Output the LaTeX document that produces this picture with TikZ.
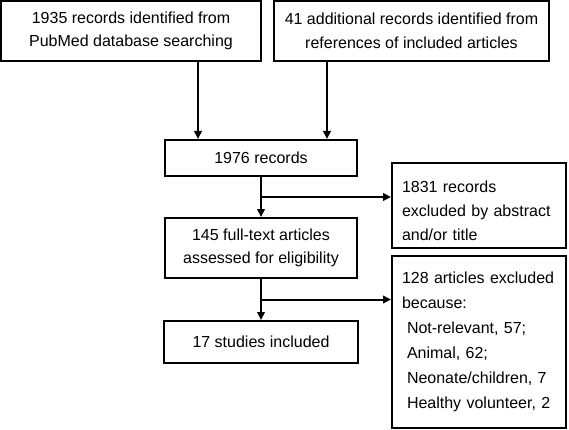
\documentclass[tikz,border=0pt]{standalone}
\usepackage{fontspec}
\setmainfont{Liberation Sans}
\usetikzlibrary{arrows.meta,calc}
\begin{document}
\begin{tikzpicture}[x=1pt,y=-1pt,
  box/.style={draw, line width=2pt, inner sep=0pt, align=center, font=\fontsize{16}{23.5}\selectfont},
  lbox/.style={box, align=left},
  arr/.style={-{Triangle[length=8pt,width=7.5pt]}, line width=2pt}]
\useasboundingbox (0,0) rectangle (569,430);
\node[box, minimum width=260pt, minimum height=60pt] (A) at (131,31) {1935 records identified from\\PubMed database searching};
\node[box, minimum width=275pt, minimum height=60pt] (B) at (411.5,31) {41 additional records identified from\\references of included articles};
\node[box, minimum width=192pt, minimum height=36pt] (C) at (261,158) {1976 records};
\node[box, minimum width=192pt, minimum height=60pt] (E) at (261,248) {145 full-text articles\\assessed for eligibility};
\node[box, minimum width=194pt, minimum height=42pt] (G) at (261,342) {17 studies included};
\node[lbox, minimum width=174pt, minimum height=85pt, text width=154pt, font=\fontsize{16}{24}\selectfont] (D) at (479,205.5) {\rule{0pt}{22pt}1831 records\\excluded by abstract\\and/or title};
\node[lbox, minimum width=174pt, minimum height=172pt, text width=154pt, font=\fontsize{16}{25}\selectfont] (F) at (479,342) {128 articles excluded\\because:\\\hspace*{5pt}Not-relevant, 57;\\\hspace*{5pt}Animal, 62;\\\hspace*{5pt}Neonate/children, 7\\\hspace*{5pt}Healthy volunteer, 2};
\draw[arr] ([xshift=67pt]A.south) -- ([xshift=67pt]A.south |- C.north);
\draw[arr] ([xshift=-84.5pt]B.south) -- ([xshift=-84.5pt]B.south |- C.north);
\coordinate (j1) at ($(C.south)!0.5!(E.north)$);
\coordinate (j2) at ($(E.south)!0.5!(G.north)$);
\draw[arr] (C.south) -- (E.north);
\draw[arr] (j1) -- (j1 -| D.west);
\draw[arr] (E.south) -- (G.north);
\draw[arr] (j2) -- (j2 -| F.west);
\end{tikzpicture}
\end{document}
